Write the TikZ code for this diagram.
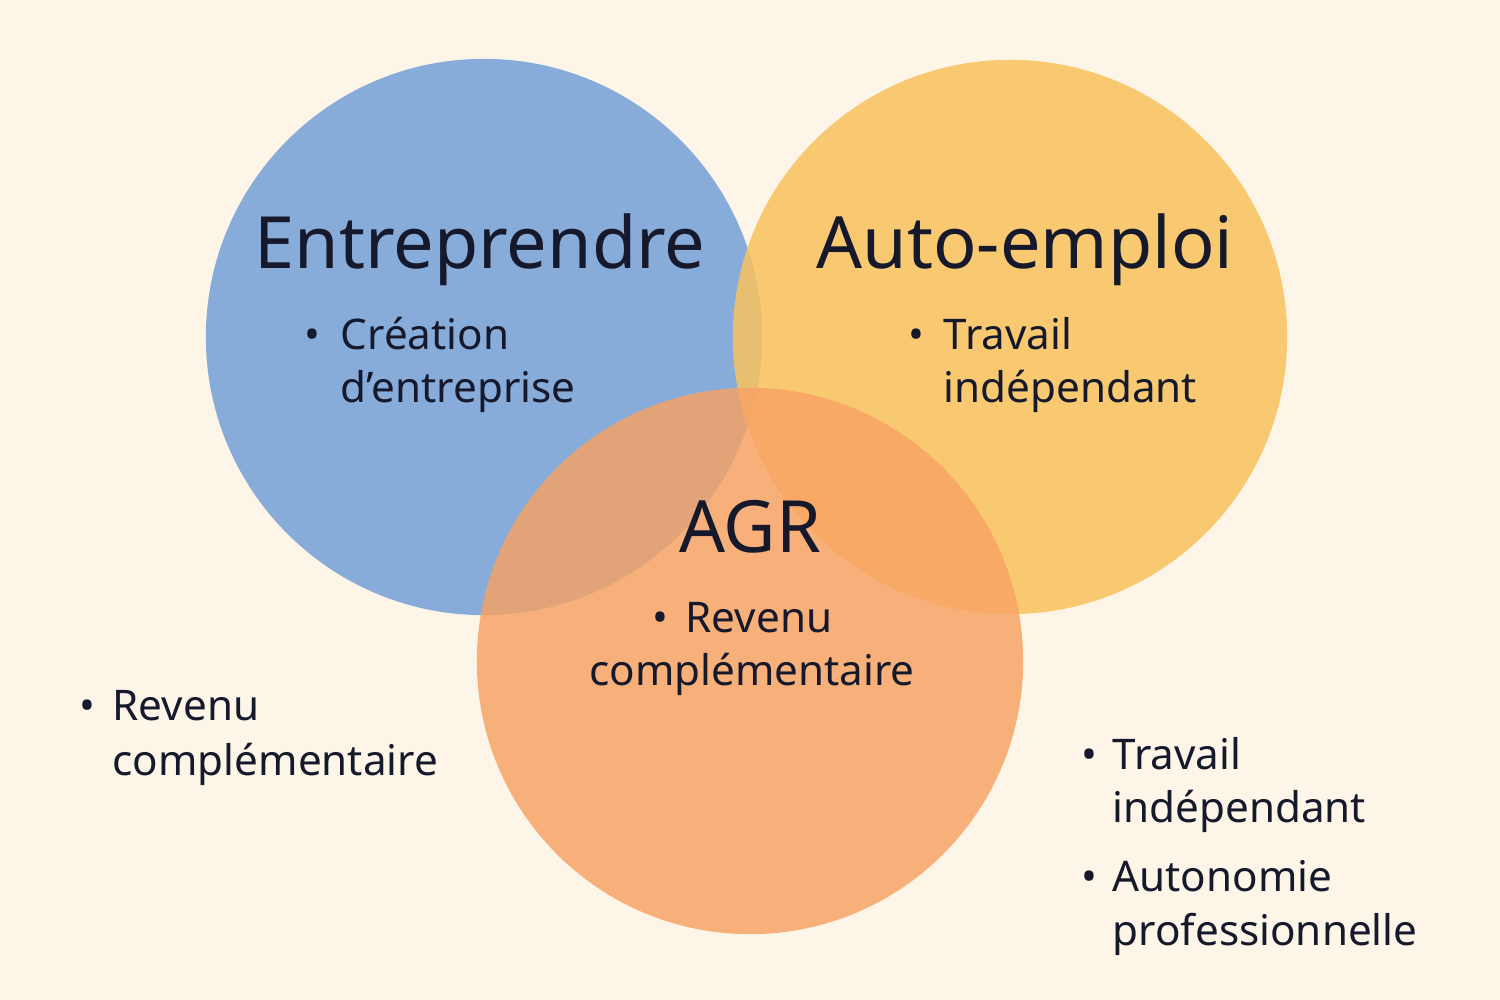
\documentclass[tikz,border=0pt]{standalone}
\usepackage{fontspec}
\setmainfont{Noto Sans}
\definecolor{bg}{HTML}{FDF5E8}
\definecolor{cblue}{HTML}{7FA6D8}
\definecolor{cyel}{HTML}{F9C25E}
\definecolor{corg}{HTML}{F8A264}
\definecolor{ink}{HTML}{15192B}
\begin{document}
\begin{tikzpicture}[x=0.01cm,y=-0.01cm,
  title/.style={font=\fontsize{20.5}{24}\selectfont\bfseries,text=ink,inner sep=0},
  body/.style={font=\fontsize{12}{15.4}\selectfont,text=ink,inner sep=0,anchor=base west},
  bul/.style={font=\fontsize{12}{15.4}\selectfont,text=ink,inner sep=0,anchor=base}]
\fill[bg] (0,0) rectangle (1500,1000);
\useasboundingbox (0,0) rectangle (1500,1000);
\fill[cblue,fill opacity=0.92] (484,337) circle (2.78cm);
\fill[cyel,fill opacity=0.85] (1010,337) circle (2.77cm);
\fill[corg,fill opacity=0.82] (750,661) circle (2.73cm);
\node[title] (t1) at (480,250) {Entreprendre};
\node[title] (t2) at (1025,250) {Auto-emploi};
\node[title] (t3) at (750,527) {AGR};
% block 1
\node[bul] (b1) at (312,349) {•};
\node[body] (l1a) at (340,349) {Création};
\node[body] (l1b) at (340,402) {d’entreprise};
% block 2
\node[bul] (b2) at (916,349) {•};
\node[body] (l2a) at (943,349) {Travail};
\node[body] (l2b) at (943,402) {indépendant};
% block 3
\node[bul] (b3) at (660,632) {•};
\node[body] (l3a) at (685,632) {Revenu};
\node[body,anchor=base] (l3b) at (752,685) {complémentaire};
% block 4
\node[bul] (b4) at (87,720) {•};
\node[body] (l4a) at (112,720) {Revenu};
\node[body] (l4b) at (112,775) {complémentaire};
% block 5
\node[bul] (b5) at (1089,769) {•};
\node[body] (l5a) at (1112,769) {Travail};
\node[body] (l5b) at (1112,822) {indépendant};
\node[bul] (b6) at (1089,891) {•};
\node[body] (l6a) at (1112,891) {Autonomie};
\node[body] (l6b) at (1112,945) {professionnelle};
\end{tikzpicture}
\end{document}
